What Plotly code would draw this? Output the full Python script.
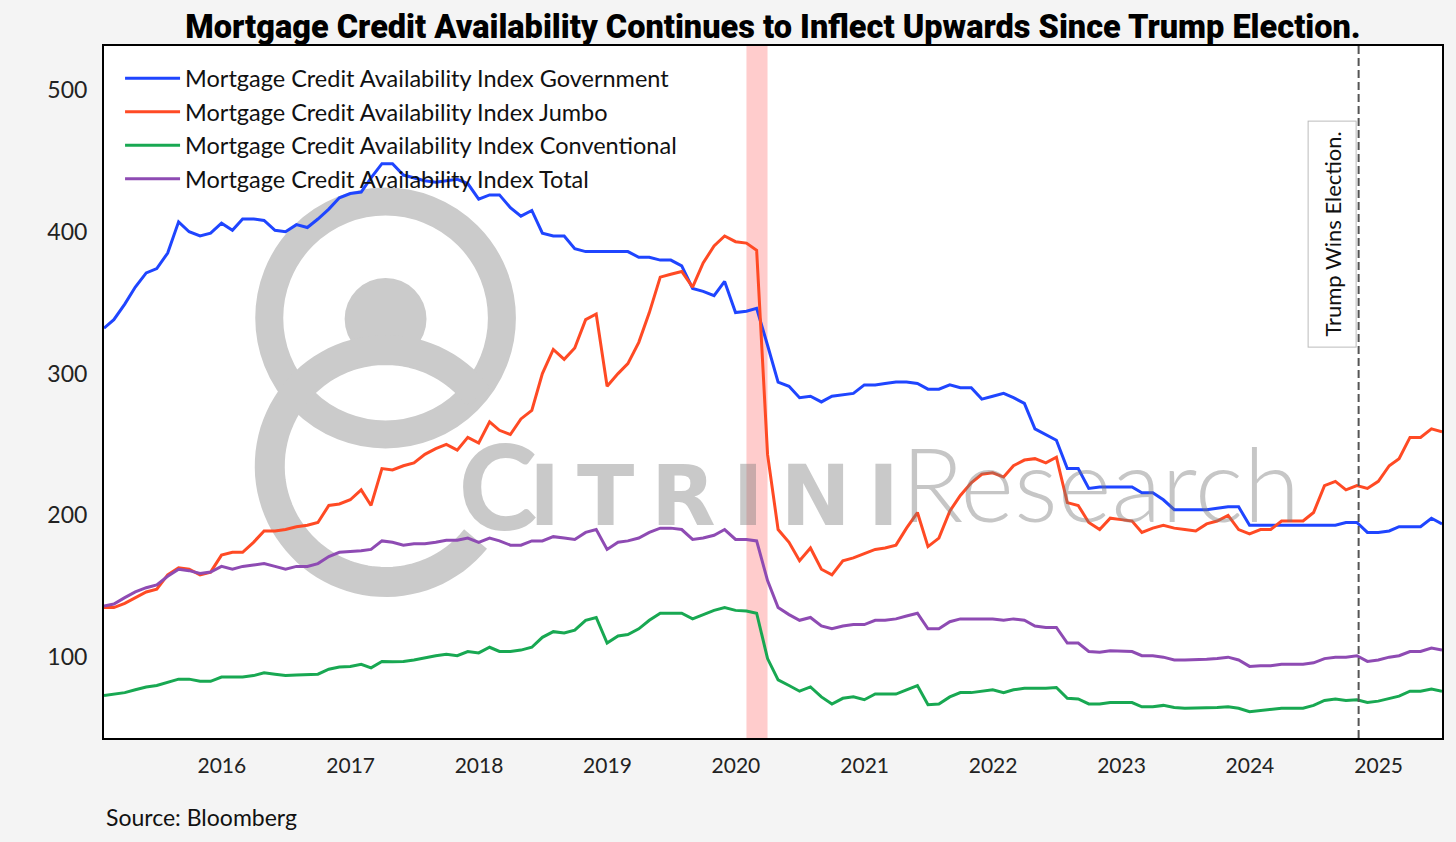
import numpy as np
import pandas as pd
import plotly.graph_objects as go

# monthly index values (month end), Jan 2015 -> Jun 2025
datas = pd.date_range('2015-01-31', periods=126, freq='ME')

governo = [332, 338, 349, 361, 371, 374, 385, 407, 400, 397,
           399, 406, 401, 409, 409, 408, 401, 400, 405, 403,
           409, 416, 424, 427, 428, 438, 448, 448, 440, 438,
           436, 435, 436, 437, 434, 423, 426, 426, 417, 411,
           415, 399, 397, 397, 388, 386, 386, 386, 386, 386,
           382, 382, 380, 380, 376, 360, 358, 355, 365, 343,
           344, 346, 320, 294, 291, 283, 284, 280, 284, 285,
           286, 292, 292, 293, 294, 294, 293, 289, 289, 292,
           290, 290, 282, 284, 286, 283, 279, 261, 257, 253,
           233, 233, 219, 220, 220, 220, 220, 216, 216, 211,
           204, 204, 204, 204, 205, 206, 206, 193, 193, 193,
           193, 193, 193, 193, 193, 193, 195, 195, 188, 188,
           189, 192, 192, 192, 198, 194]

jumbo = [135, 135, 138, 142, 146, 148, 158, 163, 162, 158,
         160, 172, 174, 174, 181, 189, 189, 190, 192, 193,
         195, 207, 208, 211, 218, 207, 233, 232, 235, 237,
         243, 247, 250, 246, 255, 251, 266, 260, 257, 268,
         274, 300, 317, 310, 318, 338, 342, 291, 300, 307,
         322, 343, 368, 370, 372, 361, 378, 390, 397, 393,
         392, 387, 243, 190, 181, 168, 177, 162, 158, 168,
         170, 173, 176, 177, 179, 191, 202, 178, 184, 203,
         214, 223, 229, 230, 227, 235, 239, 240, 237, 241,
         209, 207, 195, 190, 198, 197, 196, 188, 191, 193,
         191, 190, 189, 194, 196, 200, 190, 187, 190, 190,
         196, 196, 196, 202, 221, 224, 218, 221, 219, 224,
         235, 240, 255, 255, 261, 259]

convencional = [73, 74, 75, 77, 79, 80, 82, 84.5, 84.5, 83,
                83, 86, 86, 86, 87, 89, 88, 87, 87.5, 87.5,
                88, 91.5, 93, 93.5, 95, 92.5, 97, 96.7, 97, 98,
                99.7, 101, 102, 101, 104, 103, 107, 104, 104, 105,
                107, 114, 118, 117, 119, 126, 128, 110, 115, 116,
                120, 126, 131, 131, 131, 127, 130, 133, 135, 133,
                132.5, 131, 99, 84, 80, 76, 79, 72, 67, 71,
                72, 70, 74, 74, 74, 77, 80, 66.5, 67, 72,
                75, 75, 76, 77, 75, 77, 78, 78, 78, 78.6,
                71, 70.5, 67, 67, 68, 68, 68, 65, 65, 66,
                64.5, 64, 64, 64, 64.5, 65, 64, 61.5, 62.5, 63,
                64, 64, 64, 66, 69.5, 70.5, 69.5, 70, 68, 69,
                71, 72.5, 76, 76, 77.5, 76]

total = [136, 137.5, 142, 146, 149, 151, 157, 162, 161, 159,
         160, 164, 162, 164, 165, 166, 164, 162, 164, 164,
         166, 171, 174, 174.5, 175, 176, 182, 181, 179, 180,
         180, 181, 182.5, 182.5, 184, 181, 184, 182, 179, 179,
         182, 182, 185, 184, 183, 188, 190, 176, 181, 182,
         184, 188, 191, 191, 190, 183, 184, 186, 190, 183,
         183, 182, 154, 135, 130, 126, 128, 122, 120, 122,
         123, 123, 126, 126, 127, 129, 131, 120, 120, 125,
         127, 127, 127, 127, 126, 127, 126, 122, 121, 121,
         110, 110, 104, 103.5, 104.5, 104, 104, 101, 101, 100,
         98, 98, 98, 98.5, 99, 100, 98, 93.5, 94, 94,
         95, 95, 95, 96, 99, 100, 100, 101, 97, 98,
         100, 101, 104, 104, 106.5, 105]

nomes = ['Mortgage Credit Availability Index Government',
         'Mortgage Credit Availability Index Jumbo',
         'Mortgage Credit Availability Index Conventional',
         'Mortgage Credit Availability Index Total']
cores = ['#1f45ff', '#ff4a24', '#18a852', '#8e4bb3']

recessao = ['2020-01-31', '2020-03-31']
eleicao = '2024-11-05'

fonte = 'Lato'

fig = go.Figure()
for nome, serie, cor in zip(nomes, [governo, jumbo, convencional, total], cores):
    fig.add_trace(go.Scatter(x=datas, y=serie, name=nome, mode='lines',
                             line=dict(color=cor, width=3)))

# area of plot in pixels -> paper coords (for the watermark)
L, R, T, B = 104, 1444, 46, 738
def px(x):
    return (x - L) / (R - L)
def py(y):
    return (B - y) / (B - T)

cinza = '#cbcbcb'
formas = []
# upper ring + head
formas.append(dict(type='circle', xref='paper', yref='paper', layer='below',
                   x0=px(386 - 116.5), x1=px(386 + 116.5), y0=py(318 + 116.5), y1=py(318 - 116.5),
                   line=dict(color=cinza, width=28)))
formas.append(dict(type='circle', xref='paper', yref='paper', layer='below',
                   x0=px(386 - 41), x1=px(386 + 41), y0=py(319 + 41), y1=py(319 - 41),
                   fillcolor=cinza, line=dict(width=0)))
# lower open ring
ang = np.radians(np.linspace(37, 321, 80))
pts = ['%s%.4f,%.4f' % ('M' if i == 0 else 'L', px(386 + 116 * np.cos(a)), py(466 - 116 * np.sin(a)))
       for i, a in enumerate(ang)]
formas.append(dict(type='path', xref='paper', yref='paper', layer='below',
                   path=' '.join(pts), line=dict(color=cinza, width=30)))
fig.update_layout(shapes=formas)

fig.add_vrect(x0=recessao[0], x1=recessao[1], fillcolor='rgba(255,0,0,0.2)',
              line_width=0, layer='below')
fig.add_vline(x=eleicao, line=dict(color='#555555', width=2, dash='8px,4px'))

marca = 'rgba(120,120,120,0.4)'
fig.add_annotation(text='C', xref='paper', yref='paper', x=px(458), y=py(557),
                   xanchor='left', yanchor='bottom', showarrow=False,
                   font=dict(family=fonte, size=118, color=marca, weight=900))
fig.add_annotation(text='<b>I\u2009T\u2009R\u2009I\u2009N\u2009I</b>',
                   xref='paper', yref='paper', x=px(528), y=py(547),
                   xanchor='left', yanchor='bottom', showarrow=False,
                   font=dict(family='DejaVu Sans', size=84, color=marca))
fig.add_annotation(text='Research', xref='paper', yref='paper', x=px(900), y=py(482),
                   xanchor='left', yanchor='middle', showarrow=False,
                   font=dict(family=fonte, size=103, color='rgba(120,120,120,0.42)', weight=300))

fig.add_annotation(text='Trump Wins Election.', x=eleicao, xref='x', y=py(121), yref='paper',
                   xanchor='right', yanchor='top', xshift=-2, textangle=-90, showarrow=False,
                   font=dict(family=fonte, size=22, color='#111111'),
                   bgcolor='white', bordercolor='#bbbbbb', borderwidth=1, borderpad=10)

fig.add_annotation(text='Source: Bloomberg', xref='paper', yref='paper', x=0, y=py(817),
                   xanchor='left', yanchor='middle', showarrow=False,
                   font=dict(family=fonte, size=23, color='#111111'))

fig.update_layout(
    width=1456, height=842,
    margin=dict(l=L, r=1456 - R, t=T, b=842 - B),
    paper_bgcolor='#f4f4f4', plot_bgcolor='white',
    font=dict(family=fonte, color='#111111'),
    title=dict(text='Mortgage Credit Availability Continues to Inflect Upwards Since Trump Election.',
               x=0.5, xref='paper', xanchor='center', y=1 - 27 / 842, yref='container', yanchor='middle',
               font=dict(family='Roboto', size=32.5, color='black', weight=900)),
    legend=dict(x=0.012, y=0.985, xanchor='left', yanchor='top', bgcolor='rgba(0,0,0,0)',
                font=dict(family=fonte, size=23.5, color='#111111'), itemwidth=55),
    showlegend=True,
)
fig.update_xaxes(range=[datas[0], datas[-1]], showgrid=False, zeroline=False,
                 showline=True, linecolor='black', linewidth=2, mirror=True, ticks='',
                 tick0='2016-01-01', dtick='M12', tickformat='%Y', ticklabelstandoff=8,
                 tickfont=dict(size=21, color='#222222'))
fig.update_yaxes(range=[43, 531], showgrid=False, zeroline=False,
                 showline=True, linecolor='black', linewidth=2, mirror=True, ticks='',
                 tickvals=[100, 200, 300, 400, 500], ticklabelstandoff=10,
                 tickfont=dict(size=23, color='#222222'))

# page margin off so the figure sits at the corner of the window
fig.write_html('out.html', config={'displayModeBar': False},
               post_script="document.body.style.margin='0';")
